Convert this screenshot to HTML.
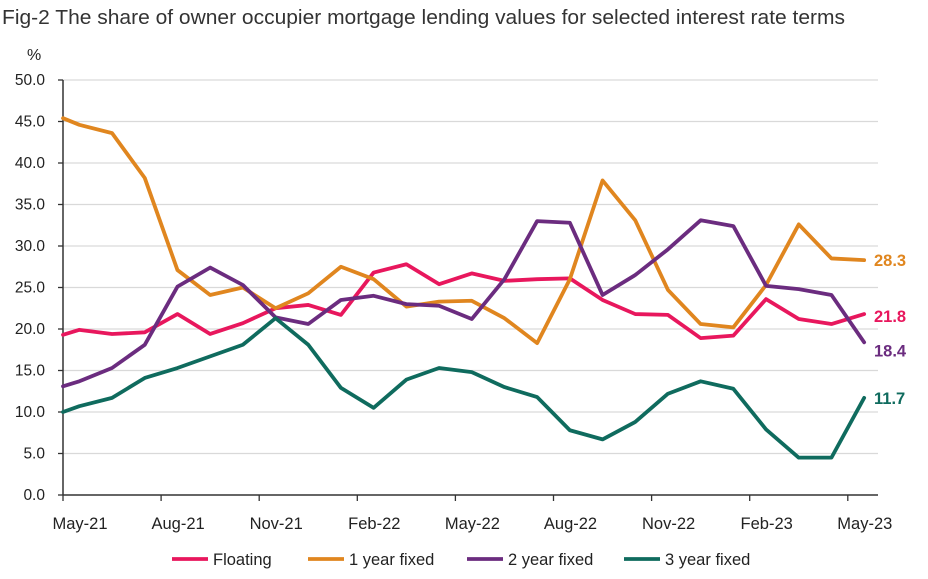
<!DOCTYPE html>
<html><head><meta charset="utf-8"><style>
body{margin:0;background:#fff;font-family:"Liberation Sans",sans-serif;}
</style></head><body>
<svg id="c" width="928" height="574" xmlns="http://www.w3.org/2000/svg" font-family="Liberation Sans, sans-serif">
<text x="2" y="24" font-size="20" fill="#333" textLength="843" lengthAdjust="spacingAndGlyphs">Fig-2 The share of owner occupier mortgage lending values for selected interest rate terms</text>
<text x="27" y="60" font-size="16" fill="#222">%</text>
<g id="grid"></g><g id="axes"></g><g id="lines"></g><g id="legend"></g>
</svg>
<script>
const yTicks=[0,5,10,15,20,25,30,35,40,45,50];
const xTickLabels=["May-21","Aug-21","Nov-21","Feb-22","May-22","Aug-22","Nov-22","Feb-23","May-23"];
const seriesNames=["Floating","1 year fixed","2 year fixed","3 year fixed"];
const floating=[19.3,19.9,19.4,19.6,21.8,19.4,20.7,22.5,22.9,21.7,26.8,27.8,25.4,26.7,25.8,26.0,26.1,23.5,21.8,21.7,18.9,19.2,23.6,21.2,20.6,21.8];
const fixed1=[45.4,44.6,43.6,38.2,27.1,24.1,25.0,22.5,24.3,27.5,26.0,22.7,23.3,23.4,21.3,18.3,26.0,37.9,33.1,24.7,20.6,20.2,25.3,32.6,28.5,28.3];
const fixed2=[13.1,13.7,15.3,18.1,25.1,27.4,25.3,21.4,20.6,23.5,24.0,23.0,22.8,21.2,26.0,33.0,32.8,24.1,26.5,29.6,33.1,32.4,25.2,24.8,24.1,18.4];
const fixed3=[10.0,10.7,11.7,14.1,15.3,16.7,18.1,21.3,18.1,12.9,10.5,13.9,15.3,14.8,13.0,11.8,7.8,6.7,8.8,12.2,13.7,12.8,7.9,4.5,4.5,11.7];
const colors=["#e8175d","#e0861f","#6b2c7f","#0f6b5e"];
const NS="http://www.w3.org/2000/svg";
const x0=63,mw=32.7,y0=495,yu=8.3,xR=878;
function xm(m){return x0+m*mw;}
function xi(i){return i===0?x0:xm(i-0.5);}
function y(v){return y0-v*yu;}
function mk(t,a,p){const e=document.createElementNS(NS,t);for(const k in a)e.setAttribute(k,a[k]);p.appendChild(e);return e;}
const G=document.getElementById('grid'),A=document.getElementById('axes'),L=document.getElementById('lines'),LG=document.getElementById('legend');
yTicks.forEach(v=>{
 if(v>0){const g=mk('line',{x1:x0,x2:xR,y1:y(v),y2:y(v),stroke:'#d9d9d9','stroke-width':1.3},G);
 
 }
 const t=mk('text',{x:45,y:y(v)+5,'text-anchor':'end','font-size':15.5,fill:'#222'},A);t.textContent=v.toFixed(1);
 
 
 mk('line',{x1:x0-5,x2:x0,y1:y(v),y2:y(v),stroke:'#333','stroke-width':1.3},A);
});
const ya=mk('line',{x1:x0,x2:x0,y1:y(50),y2:y0,stroke:'#333','stroke-width':1.5},A);


const xa=mk('line',{x1:x0,x2:xR,y1:y0,y2:y0,stroke:'#333','stroke-width':1.5},A);


xTickLabels.forEach((l,i)=>{
 const xx=xm(i*3);
 mk('line',{x1:xx,x2:xx,y1:y0,y2:y0+6,stroke:'#333','stroke-width':1.3},A);
 const t=mk('text',{x:xx+17,y:529,'text-anchor':'middle','font-size':16.5,fill:'#222'},A);t.textContent=l;
 
 
});
const all=[floating,fixed1,fixed2,fixed3];
const ids=['floating','1-year-fixed','2-year-fixed','3-year-fixed'];
const labOff=[2,0,8,0];
all.forEach((s,k)=>{
 const p=mk('polyline',{points:s.map((v,i)=>xi(i)+','+y(v)).join(' '),fill:'none',stroke:colors[k],'stroke-width':3.8,'stroke-linejoin':'round','stroke-linecap':'round'},L);
 
 
 const last=s[s.length-1];
 const t=mk('text',{x:874,y:y(last)+6+labOff[k],'font-size':16.5,'font-weight':'bold',fill:colors[k]},L);t.textContent=last.toFixed(1);
 
 
 const lx=[172,308,467,624][k];
 const ln=mk('line',{x1:lx,x2:lx+36,y1:559,y2:559,stroke:colors[k],'stroke-width':3.8},LG);
 
 
 const lt=mk('text',{x:lx+41,y:565,'font-size':16.5,fill:'#222'},LG);lt.textContent=seriesNames[k];
 
 
});
</script>
</body></html>
